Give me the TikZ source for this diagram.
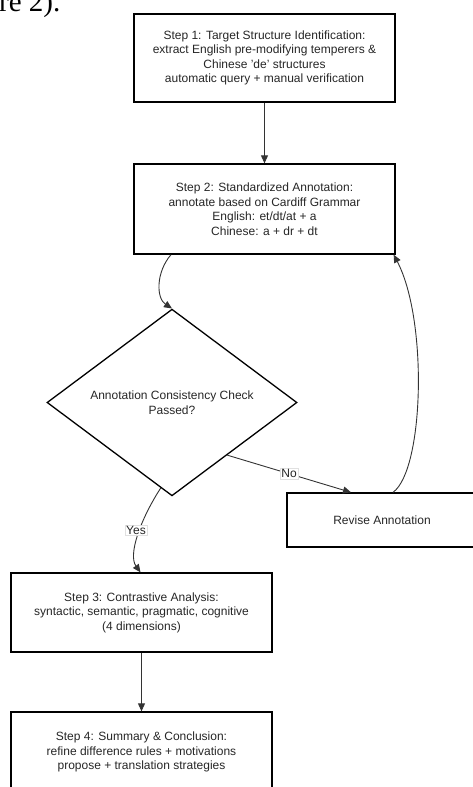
\documentclass[tikz,border=0pt]{standalone}
\usepackage{fontspec}
\setmainfont{Liberation Sans}
\newfontfamily\serifpart{Liberation Serif}
\usetikzlibrary{arrows.meta,shapes.geometric,calc}
\tikzset{
  stepbox/.style={draw=black, line width=1.3pt, rectangle, inner sep=0pt, align=center, text=black!85,
    font=\fontsize{12}{14.5}\selectfont},
  decbox/.style={draw=black, line width=1.3pt, diamond, inner sep=0pt, align=center, text=black!85,
    font=\fontsize{12}{14.5}\selectfont, minimum width=250pt, minimum height=179pt},
  conn/.style={draw=black!80, line width=0.9pt, -{Triangle[length=8pt,width=7pt]}},
  lbl/.style={fill=white, draw=black!12, line width=0.4pt, inner sep=1pt, text=black!85,
    font=\fontsize{12}{14}\selectfont}
}
\begin{document}
\begin{tikzpicture}[x=1pt,y=-1pt]
\useasboundingbox (0,0) rectangle (473,787);
\clip (0,0) rectangle (473,787);
\node[anchor=base west, font=\serifpart\fontsize{29}{30}\selectfont, inner sep=0pt] (frag) at (-1,12) {re 2).};
\node[stepbox, minimum width=261pt, minimum height=88pt] (s1) at (264.5,58)
  {Step 1: Target Structure Identification:\\extract English pre-modifying temperers \&\\Chinese 'de' structures\\automatic query + manual verification};
\node[stepbox, minimum width=261pt, minimum height=90pt] (s2) at (264.5,209)
  {Step 2: Standardized Annotation:\\annotate based on Cardiff Grammar\\English: et/dt/at + a\\Chinese: a + dr + dt};
\node[decbox] (d) at (172,402.5) {Annotation Consistency Check\\Passed?};
\node[stepbox, minimum width=190pt, minimum height=54pt] (r) at (382,520) {Revise Annotation};
\node[stepbox, minimum width=261pt, minimum height=79pt] (s3) at (141.5,612.5)
  {Step 3: Contrastive Analysis:\\syntactic, semantic, pragmatic, cognitive\\(4 dimensions)};
\node[stepbox, minimum width=261pt, minimum height=80pt] (s4) at (141.5,752)
  {Step 4: Summary \& Conclusion:\\refine difference rules + motivations\\propose + translation strategies};

\draw[conn] (s1.south) -- (s2.north);
\draw[conn] ([xshift=-93.5pt]s2.south) .. controls (156,272) and (156,298) .. (d.north);
\coordinate (dno) at ($(d.east)!0.56!(d.south)$);
\draw[conn] (dno) -- node[lbl] (no) {No} ([xshift=-31pt]r.north);
\draw[conn] ([xshift=11pt]r.north) .. controls (424,470) and (428,320) .. ([xshift=-2pt]s2.south east);
\coordinate (dyes) at ($(d.south)!0.09!(d.west)$);
\draw[conn] (dyes) .. controls (140,520) and (128,555) .. ([xshift=-1pt]s3.north);
\node[lbl] (yes) at (136,530) {Yes};
\draw[conn] (s3.south) -- (s4.north);
\end{tikzpicture}
\end{document}
